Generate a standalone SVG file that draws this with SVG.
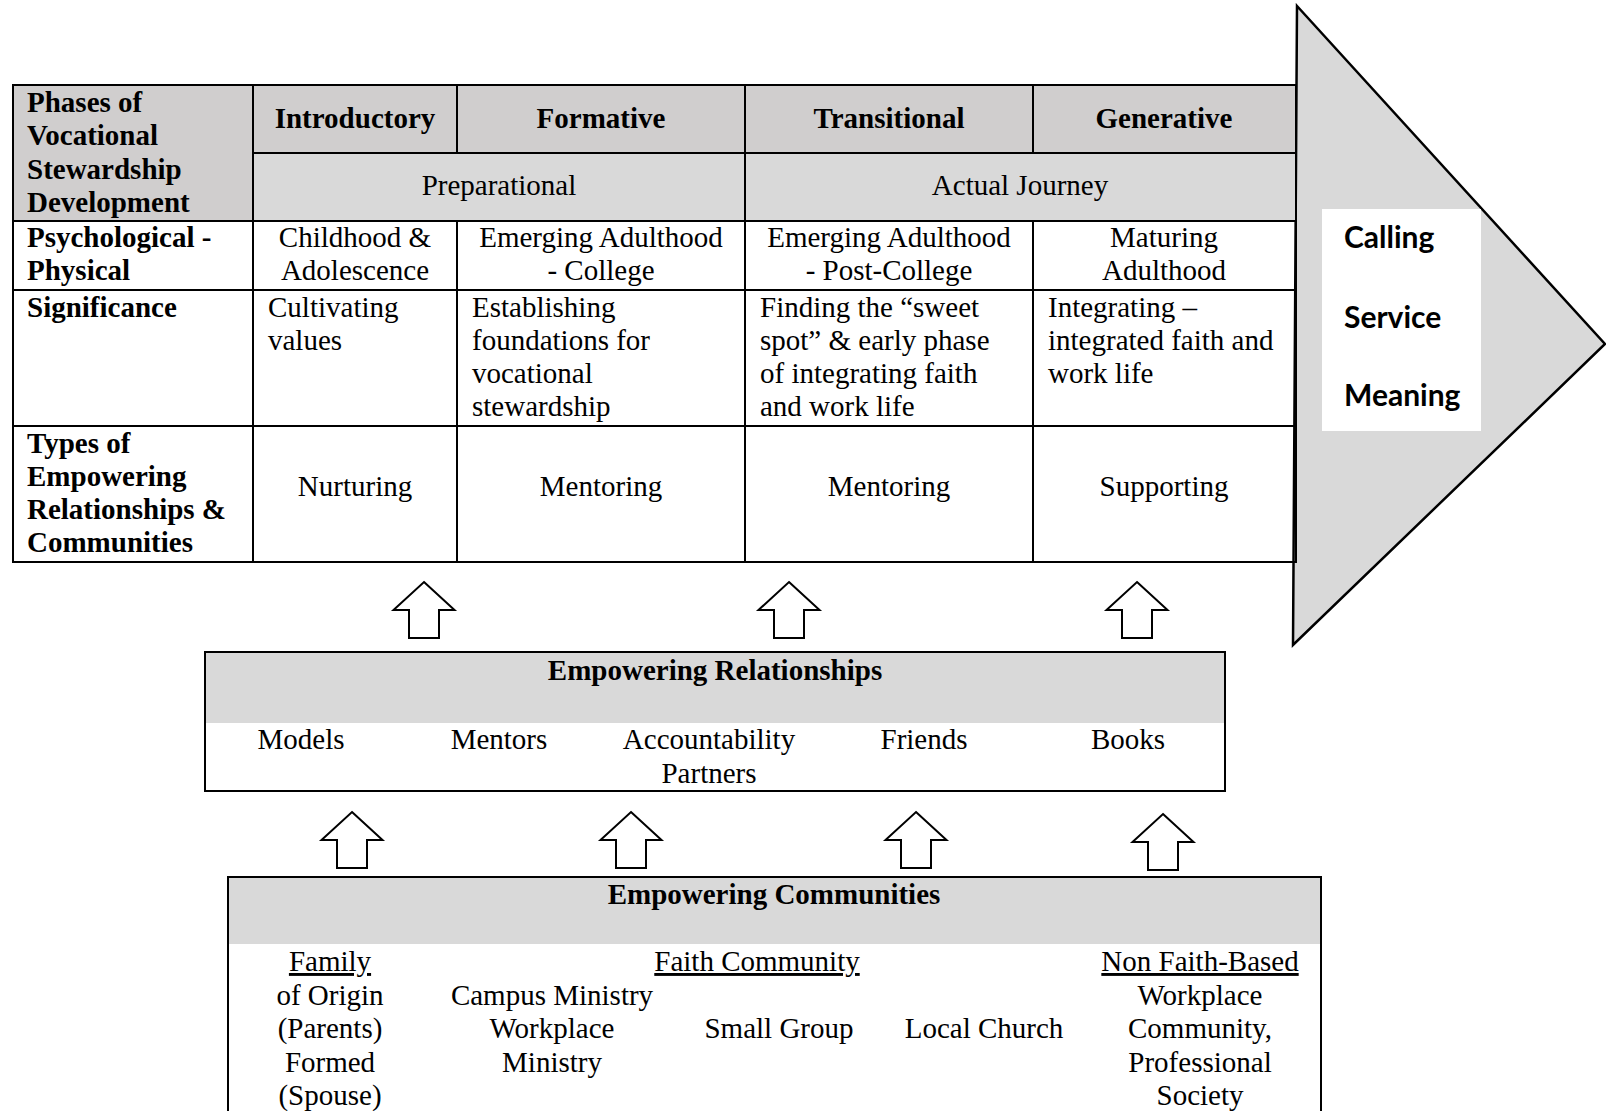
<svg xmlns="http://www.w3.org/2000/svg" width="1606" height="1111" viewBox="0 0 1606 1111">
<style>
text{font-family:"Liberation Serif","Times New Roman",serif;font-size:29px;fill:#000}
.b{font-weight:700}
.c{text-anchor:middle}
.u{text-decoration:underline}
.ln{stroke:#000;stroke-width:2;fill:none}
.cs{font-family:Lato,"Open Sans",sans-serif;font-weight:700;font-size:30px}
.arr{fill:#fff;stroke:#000;stroke-width:2;stroke-linejoin:miter}
</style>
<defs>
<path id="up" d="M0,0 L30.5,28 L15,28 L15,56 L-15,56 L-15,28 L-30.5,28 Z"/>
</defs>
<rect width="1606" height="1111" fill="#fff"/>

<g id="outcome-arrow">
<polygon points="1297,6 1605,344 1293,645" fill="#d9d9d9" stroke="#000" stroke-width="2.5"/>
<rect x="1322" y="209" width="159" height="222" fill="#fff"/>
<text class="cs" x="1344" y="248">Calling</text>
<text class="cs" x="1344" y="328">Service</text>
<text class="cs" x="1344" y="406">Meaning</text>
</g>

<g id="phases-table">
<rect x="13" y="85" width="240" height="136" fill="#d0cece"/>
<rect x="253" y="85" width="1043" height="68" fill="#d0cece"/>
<rect x="253" y="153" width="1043" height="68" fill="#d9d9d9"/>
<rect x="13" y="85" width="1283" height="477" class="ln"/>
<path class="ln" d="M253,85V562 M457,85V153 M457,221V562 M745,85V562 M1033,85V153 M1033,221V562 M253,153H1296 M13,221H1296 M13,290H1296 M13,426H1296"/>
<text class="b" x="27" y="112">Phases of</text>
<text class="b" x="27" y="145">Vocational</text>
<text class="b" x="27" y="179">Stewardship</text>
<text class="b" x="27" y="212">Development</text>
<text class="b c" x="355" y="128">Introductory</text>
<text class="b c" x="601" y="128">Formative</text>
<text class="b c" x="889" y="128">Transitional</text>
<text class="b c" x="1164" y="128">Generative</text>
<text class="c" x="499" y="195">Preparational</text>
<text class="c" x="1020" y="195">Actual Journey</text>
<text class="b" x="27" y="247">Psychological -</text>
<text class="b" x="27" y="280">Physical</text>
<text class="c" x="355" y="247">Childhood &amp;</text>
<text class="c" x="355" y="280">Adolescence</text>
<text class="c" x="601" y="247">Emerging Adulthood</text>
<text class="c" x="601" y="280">- College</text>
<text class="c" x="889" y="247">Emerging Adulthood</text>
<text class="c" x="889" y="280">- Post-College</text>
<text class="c" x="1164" y="247">Maturing</text>
<text class="c" x="1164" y="280">Adulthood</text>
<text class="b" x="27" y="317">Significance</text>
<text x="268" y="317">Cultivating</text>
<text x="268" y="350">values</text>
<text x="472" y="317">Establishing</text>
<text x="472" y="350">foundations for</text>
<text x="472" y="383">vocational</text>
<text x="472" y="416">stewardship</text>
<text x="760" y="317">Finding the “sweet</text>
<text x="760" y="350">spot” &amp; early phase</text>
<text x="760" y="383">of integrating faith</text>
<text x="760" y="416">and work life</text>
<text x="1048" y="317">Integrating –</text>
<text x="1048" y="350">integrated faith and</text>
<text x="1048" y="383">work life</text>
<text class="b" x="27" y="453">Types of</text>
<text class="b" x="27" y="486">Empowering</text>
<text class="b" x="27" y="519">Relationships &amp;</text>
<text class="b" x="27" y="552">Communities</text>
<text class="c" x="355" y="496">Nurturing</text>
<text class="c" x="601" y="496">Mentoring</text>
<text class="c" x="889" y="496">Mentoring</text>
<text class="c" x="1164" y="496">Supporting</text>
</g>

<g id="empowering-relationships">
<rect x="205" y="652" width="1020" height="71" fill="#d9d9d9"/>
<rect x="205" y="652" width="1020" height="139" class="ln"/>
<text class="b c" x="715" y="680">Empowering Relationships</text>
<text class="c" x="301" y="749">Models</text>
<text class="c" x="499" y="749">Mentors</text>
<text class="c" x="709" y="749">Accountability</text>
<text class="c" x="709" y="783">Partners</text>
<text class="c" x="924" y="749">Friends</text>
<text class="c" x="1128" y="749">Books</text>
</g>

<g id="empowering-communities">
<rect x="228" y="877" width="1093" height="67" fill="#d9d9d9"/>
<rect x="228" y="877" width="1093" height="250" class="ln"/>
<text class="b c" x="774" y="904">Empowering Communities</text>
<text class="c u" x="330" y="971">Family</text>
<text class="c" x="330" y="1005">of Origin</text>
<text class="c" x="330" y="1038">(Parents)</text>
<text class="c" x="330" y="1072">Formed</text>
<text class="c" x="330" y="1105">(Spouse)</text>
<text class="c u" x="757" y="971">Faith Community</text>
<text class="c" x="552" y="1005">Campus Ministry</text>
<text class="c" x="552" y="1038">Workplace</text>
<text class="c" x="552" y="1072">Ministry</text>
<text class="c" x="779" y="1038">Small Group</text>
<text class="c" x="984" y="1038">Local Church</text>
<text class="c u" x="1200" y="971">Non Faith-Based</text>
<text class="c" x="1200" y="1005">Workplace</text>
<text class="c" x="1200" y="1038">Community,</text>
<text class="c" x="1200" y="1072">Professional</text>
<text class="c" x="1200" y="1105">Society</text>
</g>

<g id="connectors">
<use href="#up" class="arr" x="424" y="582"/>
<use href="#up" class="arr" x="789" y="582"/>
<use href="#up" class="arr" x="1137" y="582"/>
<use href="#up" class="arr" x="352" y="812"/>
<use href="#up" class="arr" x="631" y="812"/>
<use href="#up" class="arr" x="916" y="812"/>
<use href="#up" class="arr" x="1163" y="814"/>
</g>
</svg>
